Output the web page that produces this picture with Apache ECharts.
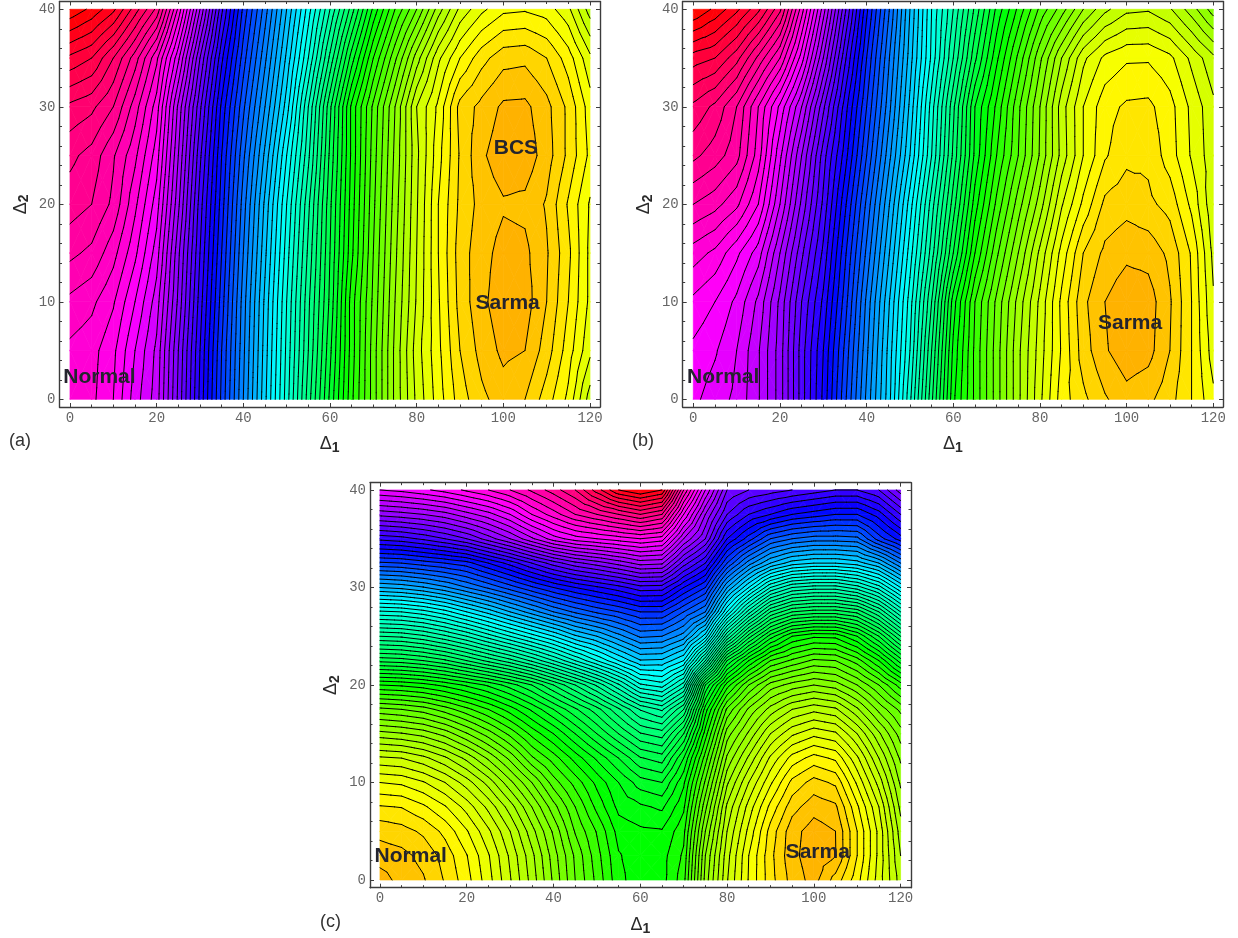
<!DOCTYPE html>
<html><head><meta charset="utf-8">
<style>html,body{margin:0;padding:0;background:#fff}#c{width:1238px;height:938px}</style>
<script src="https://cdn.jsdelivr.net/npm/echarts@6/dist/echarts.min.js"></script>
</head><body><div id="c"></div>
<script>
// Grid coordinates of the sampled surfaces
const delta1 = [0,5,10,15,20,25,30,35,40,45,50,55,60,65,70,75,80,85,90,95,100,105,110,115,120];
const delta2AB = [0,5,10,15,20,25,30,35,40];
const delta2C = [0,2.5,5,7.5,10,12.5,15,17.5,20,22.5,25,27.5,30,32.5,35,37.5,40];
// Panel (a): surface read as hue degrees, one row per delta2
const surfaceA = [
[310,309,304,294,286,267,247,227,208,189,170,150,131,113,98,83,71,62,54,49,46,48,54,61,74],
[311,309.5,305,296,287,268,248,228,209,190,171,152,133,114,98,83,70,61,52,46.5,43,44,50,58,67],
[315,313,308.5,300,290,271,250,230,210,191,172,153,135,114,99,84,71.5,60.5,50.5,45,41.5,42,48,56,65],
[321,319,313.5,305,294,273,252,232,212,193,174,155,136,117,100,85,72,60,50,45.5,42.5,43,47.5,55,65],
[326,324,319,309,298,277,254,234,214,195,176,157,137,118,101,86,72.5,60,51,46.5,44.5,45,48.5,56.5,64.5],
[329,326.5,320.5,313,302,280,257,236,217,199,180,161,139,119,102,87,73,61.5,51.5,44.7,41.5,41.5,46,53,61],
[335,333,328,318,306,283,261,239,221,204,186,164,141,119,103,88,72,63,50.6,46.7,43.2,43,46.7,53,62],
[347,344,336,326,313,293,268,245,226,209,191,172,151,130,112,97,82,69,60,53.5,49.5,49,52,58,67],
[363,359,353,342,331,307,280,253,231,214,196,178,160,142,123,108,96,82,71,65,61,60.5,62,67,78]];
// Panel (b)
const surfaceB = [
[297,294,291,284.5,274,258,243,225,207,190,169,145,121,107,94,81,69,58,53,48.5,45.5,47,50.5,56,63],
[299,296.5,292,284.5,274,258,244,227,209,191,172,148,123,107,94,81,70,59.5,50,44.5,41.5,42.5,48,56,66],
[303,300,295,287,275,260,247,230,211,193,174,152,126,108,95,82.5,71,59,49,44,41,42,47.5,56,67.5],
[310,307,301,294,280,265,251,233,215,197,178,158,136,116,101,88,75,62.5,52,47,45,45.5,49,56.5,69],
[320,317.5,313,304,288,271,255,237,219,201,182,162,142,122,107,94,82,68.5,59,51,49.5,51,53.5,61,71],
[329,326,321.5,310,293,276,258,242,224,206,188,168,147,127,112,100,87.5,74.5,64,56.5,53,53,58,64.5,70.5],
[335,331,324,312,299,284,265,246,228,210,191,170,149,128,115,101,88,74,64,57.5,55.3,55,58.5,65,71],
[346,344,337.5,327,316,298,276,253,232,213,194,175,156,137,121,107,93,80,69,63,60.6,60.5,63,69,75],
[364,359,353,345,333,310,286,261,237,217,196,176,160,143,127,115,103,94,84,77,73,72.5,75.5,82,90]];
// Panel (c): surface read as contour number
const surfaceC = [
[.5,1.4,1.9,3.1,4.6,6.6,8.9,11.4,14.2,17,19.3,21.7,22.6,22.4,20.4,13.6,9.1,5.9,3.4,1.6,.6,2.4,4.6,7.5,10.5],
[1.5,1.7,2.3,3.4,4.95,6.9,9.2,11.7,14.5,17.2,19.6,21.9,22.6,22.4,20.8,14,9.4,6,3.3,1.3,.4,.95,4,7.3,11],
[2.3,2.6,3.2,4.3,5.9,7.8,10,12.6,15.2,18.1,20.1,22.4,22.8,22.9,21.3,15,10,6.7,3.6,1.4,.5,1,4,7.3,11.5],
[3.9,4.05,4.8,5.9,7.4,9.3,11.5,14,16.6,19,21.3,23.3,23.8,24.2,22.2,16.3,10.8,7.6,4.7,2.4,1.4,1.8,4.8,8,12.3],
[6,6.2,6.9,8,9.5,11.4,13.7,16,18.5,20.4,22.3,24,25.5,26,23.2,17.8,12.2,9,6.2,3.7,2.6,3.2,6.2,9.4,13.2],
[8.8,9,9.7,10.8,12.3,14.2,16.3,18.8,20.5,22.4,24.2,26,27.9,28.5,25,19.5,13.8,10.8,7.8,5.6,4.6,5.2,7.8,11,14.2],
[12.6,12.9,13.4,14.4,15.9,17.5,19.3,21.3,23,25,27,29,30.9,31.5,28,21.5,15.5,12.8,10,8.2,7.3,7.8,10,12.8,15.5],
[16.7,17,17.5,18.5,19.7,21,22.5,24.2,26,27.8,29.6,31.8,34.1,35.2,32,23.5,17.8,14.8,12.6,11,10.3,10.8,12.8,15.3,17.3],
[22,22.2,22.6,23.3,24.2,25.2,26.5,28,30,32,34.2,36.8,39.8,40.5,37.5,27,21.5,18,15.6,14.6,14,14.5,16,18,20.5],
[28.3,28.5,29,29.8,31,32.3,33.6,35.2,37,39,41,43,44.9,44.8,43,36,27,23,20,18.8,17.8,18,19.5,22,25.5],
[34,34.2,34.8,35.8,37,38.5,40,41.5,43,44.8,46,47.6,49.2,49,47.5,43.5,35,29.5,25.5,23,22.2,22.3,24,27,31],
[39.8,40,40.6,41.6,43,44.4,46,47.5,49,50.2,51.2,52,53,53,51,49,42,36.5,32,30,29.5,29.5,30.3,33,37],
[46,46.3,46.9,47.8,49,50.2,51.5,52.8,54,55,55.8,56.6,57.6,57.5,55,53,47,43,39,37,36.5,36.5,37.5,39.5,43],
[51.8,52,52.5,53,53.6,55,56.4,58,59.5,60.7,61.5,62.4,63.4,63.2,59.5,57,52,48.5,46,44.5,44,44,44.5,46,49],
[57.3,57.6,58.2,59,60,61.5,63,64.8,66.5,67.5,68,68.5,69,68.5,64,61,56,53.5,51,50,49.5,49.5,49.7,52.5,54.5],
[62.3,62.6,63,63.6,64.6,65.6,67,69,70.5,72,73,74,75,74,68,63,59,57,56,55,54.5,54,54,55.5,58],
[67,67.3,67.8,68.4,69.2,70,71,72.2,73.5,75,77.5,80,81,80,72,66,61,60,59.5,59,58.5,58,58,59,61.5]];
// Colour scale of panel (c): contour number -> hue
const stopsC = [0,1,5,18,22.5,42.5,55,68,81];
const stopHuesC = [41,44,60,100,120,180,240,300,360];
// Ticks
const xMajor = [0,20,40,60,80,100,120];
const xMinor = [5,10,15,25,30,35,45,50,55,65,70,75,85,90,95,105,110,115];
const yMajor = [0,10,20,30,40];
const yMinor = [2,4,6,8,12,14,16,18,22,24,26,28,32,34,36,38];
// Annotations
const notesA = [['Normal',6.8,2.36],['BCS',102.9,25.9],['Sarma',101,10]];
const notesB = [['Normal',6.9,2.36],['Sarma',100.8,7.9]];
const notesC = [['Normal',7.1,2.5],['Sarma',100.9,3.0]];

const hueIdentity = v => v;
const hueC = v => {
  for (let i = 1; i < stopsC.length; i++) if (v <= stopsC[i]) {
    return stopHuesC[i-1] + (v-stopsC[i-1])/(stopsC[i]-stopsC[i-1])*(stopHuesC[i]-stopHuesC[i-1]);
  }
  return 360;
};
const panels = [
 {z:surfaceA, rows:delta2AB, step:4, hue:hueIdentity, notes:notesA, left:59.5, top:1.5, w:540.5, h:405.5, xr:[-2.42,122.31], yr:[-0.79,40.8], tag:'(a)', tagx:9, tagy:442},
 {z:surfaceB, rows:delta2AB, step:4, hue:hueIdentity, notes:notesB, left:682.7, top:1.5, w:540.3, h:405.5, xr:[-2.45,122.25], yr:[-0.79,40.8], tag:'(b)', tagx:632, tagy:442},
 {z:surfaceC, rows:delta2C, step:1, hue:hueC, notes:notesC, left:370, top:482.7, w:541, h:405, xr:[-2.3,122.4], yr:[-0.79,40.75], tag:'(c)', tagx:320, tagy:923}
];

function triangles(P, i, j) {
  const X = delta1, Y = P.rows, Z = P.z;
  const a=[X[i],Y[j],Z[j][i]], b=[X[i+1],Y[j],Z[j][i+1]], c=[X[i+1],Y[j+1],Z[j+1][i+1]], d=[X[i],Y[j+1],Z[j+1][i]];
  const m=[(a[0]+b[0])/2,(a[1]+d[1])/2,(a[2]+b[2]+c[2]+d[2])/4];
  return [[a,b,m],[b,c,m],[c,d,m],[d,a,m]];
}
function clip(poly, lv, keepAbove) {
  const out=[];
  for (let k=0;k<poly.length;k++) {
    const p=poly[k], q=poly[(k+1)%poly.length];
    const pin = keepAbove ? p[2]>=lv : p[2]<=lv;
    const qin = keepAbove ? q[2]>=lv : q[2]<=lv;
    if (pin) out.push(p);
    if (pin!==qin) {
      const t=(lv-p[2])/(q[2]-p[2]);
      out.push([p[0]+t*(q[0]-p[0]),p[1]+t*(q[1]-p[1]),lv]);
    }
  }
  return out;
}
function fillItem(P){ return function(params, api){
  const cell = params.dataIndex, nx = delta1.length-1;
  const i = cell % nx, j = Math.floor(cell/nx);
  const children=[];
  for (const tri of triangles(P,i,j)) {
    const vs=tri.map(p=>p[2]);
    const k0=Math.floor(Math.min(...vs)/P.step), k1=Math.floor(Math.max(...vs)/P.step);
    for (let k=k0;k<=k1;k++) {
      let poly=clip(tri,k*P.step,true);
      if (poly.length) poly=clip(poly,(k+1)*P.step,false);
      if (poly.length<3) continue;
      const h=((P.hue((k+.5)*P.step))%360+360)%360;
      const col='hsl('+h.toFixed(1)+',100%,50%)';
      children.push({type:'polygon',silent:true,shape:{points:poly.map(p=>api.coord([p[0],p[1]]))},style:{fill:col,stroke:col,lineWidth:.7}});
    }
  }
  return {type:'group',children};
};}
function lineItem(P){ return function(params, api){
  const cell = params.dataIndex, nx = delta1.length-1;
  const i = cell % nx, j = Math.floor(cell/nx);
  const children=[];
  for (const tri of triangles(P,i,j)) {
    const vs=tri.map(p=>p[2]);
    const lo=Math.ceil(Math.min(...vs)/P.step), hi=Math.floor(Math.max(...vs)/P.step);
    for (let k=lo;k<=hi;k++) {
      const lv=k*P.step, pts=[];
      for (let e=0;e<3;e++){
        const p=tri[e], q=tri[(e+1)%3];
        if ((p[2]<lv)!==(q[2]<lv)){
          const t=(lv-p[2])/(q[2]-p[2]);
          pts.push(api.coord([p[0]+t*(q[0]-p[0]),p[1]+t*(q[1]-p[1])]));
        }
      }
      if (pts.length===2) children.push({type:'polyline',silent:true,shape:{points:pts},style:{fill:null,stroke:'#000',lineWidth:1,lineCap:'round'}});
    }
  }
  return {type:'group',children};
};}

const frameColor='#3c3c3c';
const labelStyle={color:'#666',fontFamily:'Liberation Mono',fontSize:14,margin:4};
const nameRich={d:{fontFamily:'Liberation Sans',fontSize:18,color:'#2a2a2a',lineHeight:20},s:{fontFamily:'Liberation Sans',fontWeight:'bold',fontSize:14,color:'#2a2a2a',padding:[7,0,0,0]}};
const xAxis=[], yAxis=[], grid=[], series=[];
panels.forEach((P,n)=>{
  grid.push({left:P.left,top:P.top,width:P.w,height:P.h,containLabel:false});
  const mk=(pos,vals,len,show,line,r,name)=>({
    type:'value',gridIndex:n,position:pos,min:r[0],max:r[1],scale:true,
    splitLine:{show:false},minorTick:{show:false},
    axisLine:{show:line,onZero:false,lineStyle:{color:frameColor,width:1.4}},
    axisTick:{show:true,inside:true,length:len,customValues:vals,lineStyle:{color:frameColor,width:1}},
    axisLabel:show?Object.assign({show:true,customValues:vals,formatter:v=>String(v)},labelStyle):{show:false},
    name:name||'',nameLocation:'middle',silent:true
  });
  const xb=mk('bottom',xMajor,4,true,true,P.xr,'{d|\u0394}{s|1}');
  xb.nameGap=27; xb.nameTextStyle={rich:nameRich};
  xAxis.push(xb,mk('bottom',xMinor,2.5,false,false,P.xr),mk('top',xMajor,4,false,true,P.xr),mk('top',xMinor,2.5,false,false,P.xr));
  const yl=mk('left',yMajor,4,true,true,P.yr,'{d|\u0394}{s|2}');
  yl.nameGap=28; yl.nameRotate=90; yl.nameTextStyle={rich:nameRich};
  yAxis.push(yl,mk('left',yMinor,2.5,false,false,P.yr),mk('right',yMajor,4,false,true,P.yr),mk('right',yMinor,2.5,false,false,P.yr));
  const cells=[];
  for(let j=0;j<P.rows.length-1;j++) for(let i=0;i<delta1.length-1;i++) cells.push([delta1[i],P.rows[j]]);
  series.push({type:'custom',xAxisIndex:4*n,yAxisIndex:4*n,coordinateSystem:'cartesian2d',data:cells,renderItem:fillItem(P),z:2,silent:true,animation:false,clip:false,progressive:0});
  series.push({type:'custom',xAxisIndex:4*n,yAxisIndex:4*n,coordinateSystem:'cartesian2d',data:cells,renderItem:lineItem(P),z:3,silent:true,animation:false,clip:false,progressive:0});
  series.push({type:'scatter',xAxisIndex:4*n,yAxisIndex:4*n,symbolSize:0,z:5,silent:true,animation:false,itemStyle:{opacity:1},
    data:P.notes.map(a=>({value:[a[1],a[2]],name:a[0]})),
    label:{show:true,position:'inside',offset:[0,1],opacity:1,formatter:'{b}',fontFamily:'Liberation Sans',fontWeight:'bold',fontSize:21,color:'#24242e'}});
});
const tags=panels.map(P=>({type:'text',left:P.tagx,top:P.tagy-10,style:{text:P.tag,font:'18px "Liberation Sans"',fill:'#333'}}));
const chart=echarts.init(document.getElementById('c'),null,{renderer:'canvas'});
chart.setOption({backgroundColor:'#fff',animation:false,grid,xAxis,yAxis,series,graphic:tags});
</script></body></html>
